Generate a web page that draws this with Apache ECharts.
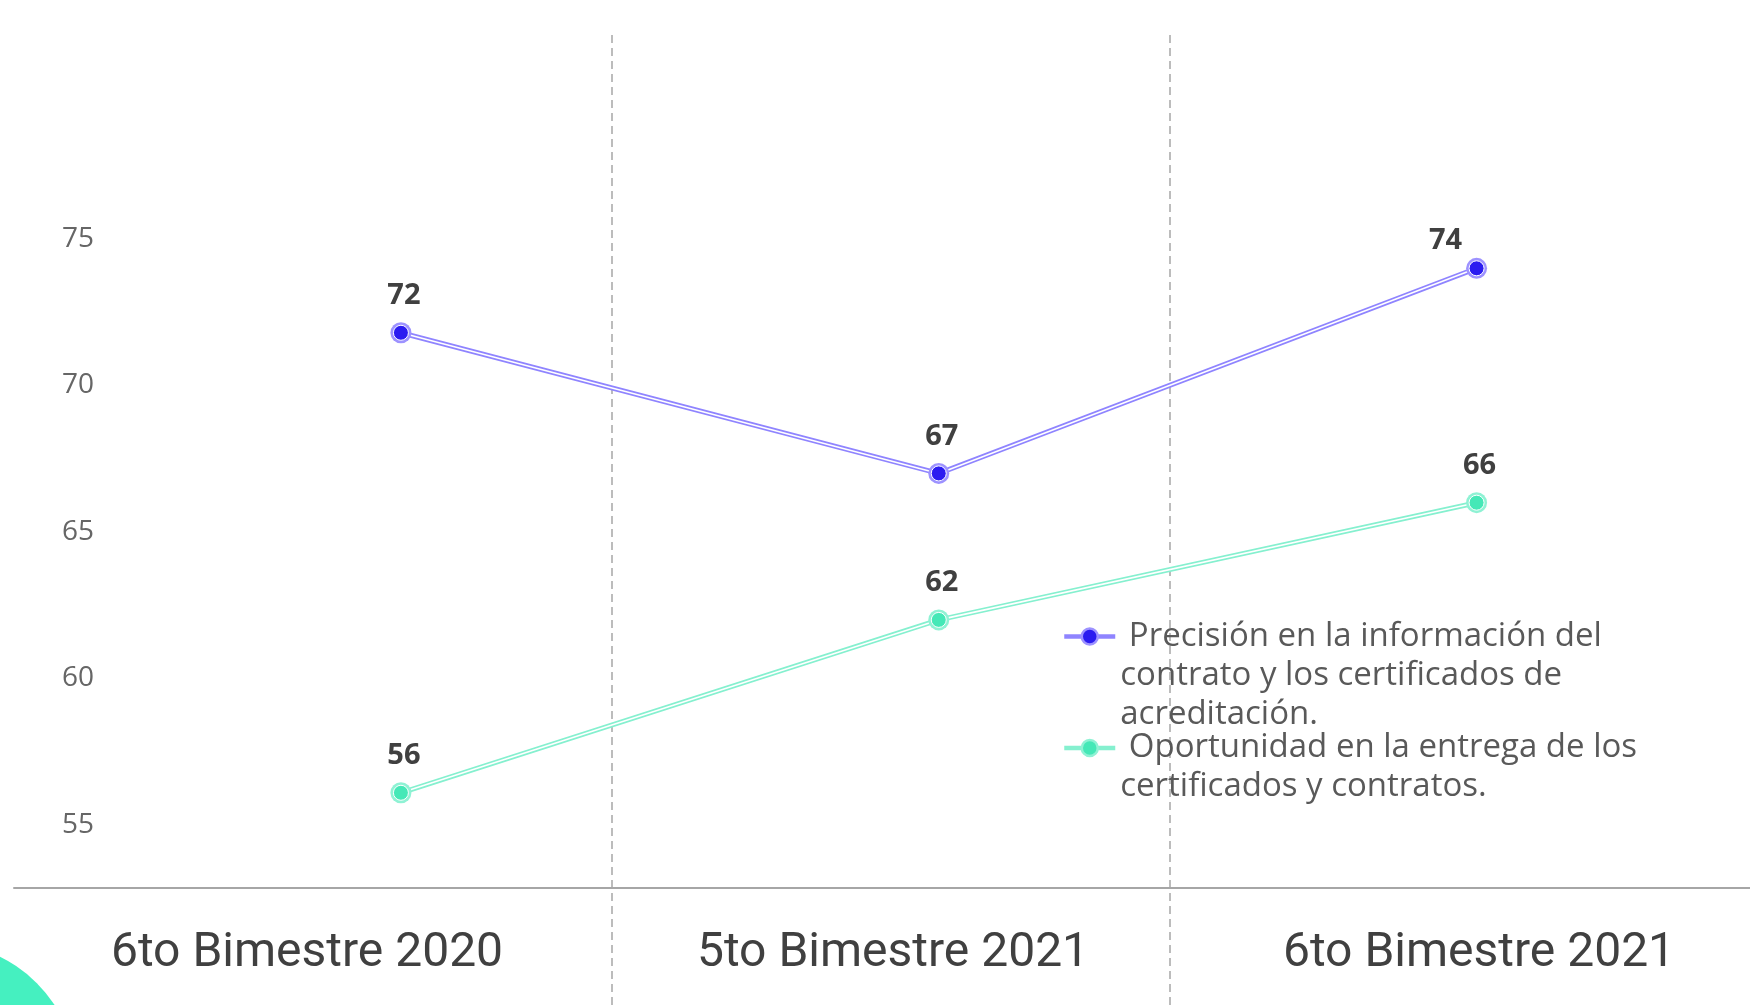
<!DOCTYPE html>
<html>
<head>
<meta charset="utf-8">
<script src="https://cdn.jsdelivr.net/npm/echarts@6/dist/echarts.min.js"></script>
<style>
html,body{margin:0;padding:0;background:#fff;}
#chart{width:1750px;height:1005px;}
</style>
</head>
<body>
<div id="chart"></div>
<script>
const categories = ['6to Bimestre 2020', '5to Bimestre 2021', '6to Bimestre 2021'];
const precision = [71.8, 67, 74];
const oportunidad = [56.1, 62, 66];
const seriesNames = [
  'Precisión en la información del contrato y los certificados de acreditación.',
  'Oportunidad en la entrega de los certificados y contratos.'
];
// empty leading lines keep the first text line level with the legend icon
const legendText = {};
legendText[seriesNames[0]] = '\n\n Precisión en la información del\ncontrato y los certificados de\nacreditación.';
legendText[seriesNames[1]] = '\n Oportunidad en la entrega de los\ncertificados y contratos.';

const blueLine = '#8f84ff', blueRing = '#9d92ff', blueDot = '#2b1cf0';
const greenLine = '#85f0cf', greenRing = '#8ff2d4', greenDot = '#45e8b7';
const bodyFont = "'Open Sans', sans-serif";

const chart = echarts.init(document.getElementById('chart'));

function labelCfg() {
  return {
    show: true, position: 'top', distance: 12, offset: [3, 0],
    formatter: p => String(Math.round(p.value)),
    fontSize: 29, fontWeight: 'bold', color: '#404040', fontFamily: bodyFont
  };
}

function legendCfg(idx, top, line, ring, dot) {
  return {
    show: true, orient: 'vertical', left: 1062, top: top, padding: 0,
    itemWidth: 51, itemHeight: 20, selectedMode: false,
    data: [{
      name: seriesNames[idx],
      itemStyle: { color: dot, borderColor: ring, borderWidth: 2.5 },
      lineStyle: { color: line, width: 4.5 }
    }],
    formatter: name => legendText[name],
    textStyle: { fontSize: 33, lineHeight: 39, color: '#595959', fontFamily: bodyFont }
  };
}

const option = {
  backgroundColor: '#ffffff',
  animation: false,
  graphic: [{
    type: 'circle', shape: { cx: -60, cy: 1080, r: 137 }, style: { fill: '#45f0c0' }, silent: true
  }],
  grid: [
    { left: 132, right: 4.5, top: 92.5, bottom: 33.5, outerBoundsMode: 'none' },
    { left: 14, width: 1758, top: 100, bottom: 117, outerBoundsMode: 'none' },
    { left: 54, right: 22, top: 35, bottom: 0, outerBoundsMode: 'none' }
  ],
  xAxis: [
    { gridIndex: 0, type: 'category', data: categories, show: false },
    {
      gridIndex: 1, type: 'category', data: categories,
      axisLine: { show: true, lineStyle: { color: '#a6a6a6', width: 2 } },
      axisTick: { show: false }, splitLine: { show: false },
      axisLabel: { interval: 0, fontSize: 48, color: '#404040', margin: 42, fontFamily: "Roboto, 'Open Sans', sans-serif" }
    },
    {
      gridIndex: 2, type: 'category', data: categories,
      axisLine: { show: false }, axisTick: { show: false }, axisLabel: { show: false },
      splitLine: { show: true, showMinLine: false, showMaxLine: false, lineStyle: { color: '#a6a6a6', width: 1.5, type: [8, 5] } }
    }
  ],
  yAxis: [
    {
      gridIndex: 0, type: 'value', min: 50, max: 80, interval: 5,
      axisLine: { show: false }, axisTick: { show: false }, splitLine: { show: false },
      axisLabel: { showMinLabel: false, showMaxLabel: false, fontSize: 28, color: '#666666', margin: 38, fontFamily: bodyFont }
    },
    { gridIndex: 1, type: 'value', show: false },
    { gridIndex: 2, type: 'value', show: false }
  ],
  legend: [
    legendCfg(0, 539, blueLine, blueRing, blueDot),
    legendCfg(1, 689.5, greenLine, greenRing, greenDot)
  ],
  series: [
    {
      name: seriesNames[0], type: 'line', xAxisIndex: 0, yAxisIndex: 0,
      data: precision.map((v, i) => i === 2 ? { value: v, label: { offset: [-31, 9] } } : v),
      symbol: 'circle', symbolSize: 21,
      lineStyle: { color: blueLine, width: 5 }, itemStyle: { color: blueRing },
      label: labelCfg(), z: 2
    },
    {
      name: 'precision-inner', type: 'line', xAxisIndex: 0, yAxisIndex: 0, data: precision,
      symbol: 'circle', symbolSize: 15, silent: true,
      lineStyle: { color: '#ffffff', width: 1.6 },
      itemStyle: { color: blueDot, borderColor: '#ffffff', borderWidth: 1 }, z: 2
    },
    {
      name: seriesNames[1], type: 'line', xAxisIndex: 0, yAxisIndex: 0, data: oportunidad,
      symbol: 'circle', symbolSize: 21,
      lineStyle: { color: greenLine, width: 5 }, itemStyle: { color: greenRing },
      label: labelCfg(), z: 2
    },
    {
      name: 'oportunidad-inner', type: 'line', xAxisIndex: 0, yAxisIndex: 0, data: oportunidad,
      symbol: 'circle', symbolSize: 15, silent: true,
      lineStyle: { color: '#ffffff', width: 1.6 },
      itemStyle: { color: greenDot, borderColor: '#ffffff', borderWidth: 1 }, z: 2
    }
  ]
};
chart.setOption(option);
</script>
</body>
</html>
